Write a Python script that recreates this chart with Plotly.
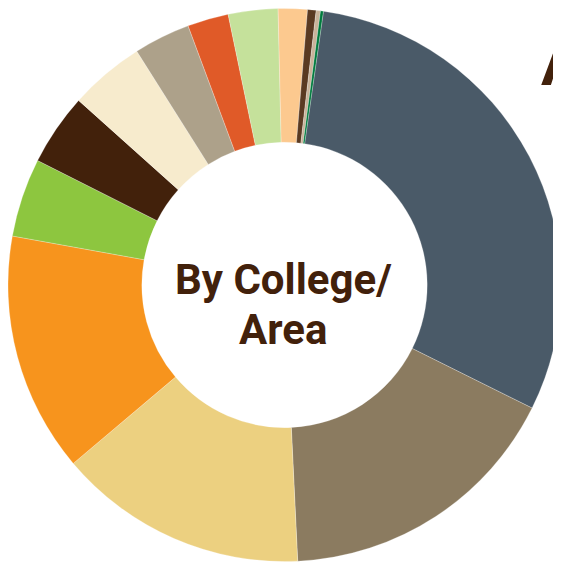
import plotly.graph_objects as go

categories = ["Area 1", "Area 2", "Area 3", "Area 4", "Area 5", "Area 6", "Area 7",
              "Area 8", "Area 9", "Area 10", "Area 11", "Area 12", "Area 13", "Area 14"]
values = [30.1, 16.9, 14.6, 14.0, 4.6, 4.2, 4.4, 3.3, 2.4, 2.9, 1.7, 0.5, 0.25, 0.17]
colors = ["#4a5a68", "#8b7b60", "#ecd080", "#f7941d", "#8dc63f", "#42210b", "#f7ebcd",
          "#ada18a", "#e05a28", "#c5e19b", "#fcc98f", "#5a3a22", "#c9b39a", "#007a3d"]
center_line1 = "By College/"
center_line2 = "Area"
title_text = "A"

# page body has an 8px margin; figure sized to fill the rest of the window
OFF = 8
W, H = 553, 554
FONT = "Roboto, Liberation Sans, Arial, sans-serif"

fig = go.Figure(go.Pie(
    labels=categories,
    values=values,
    sort=False,
    direction="clockwise",
    rotation=8.1,
    hole=0.516,
    marker=dict(colors=colors, line=dict(color="rgba(255,255,255,0.5)", width=0.5)),
    textinfo="none",
    showlegend=False,
    domain=dict(x=[0.0, 1.0], y=[0.0, 1.0]),
))

def ypap(y_window):
    return 1 - (y_window - OFF) / H

def xpap(x_window):
    return (x_window - OFF) / W

fig.add_annotation(
    text="<b>" + center_line1 + "</b>",
    x=xpap(283), y=ypap(279), xref="paper", yref="paper",
    showarrow=False, xanchor="center", yanchor="middle",
    font=dict(family=FONT, size=42, color="#42210b"),
)
fig.add_annotation(
    text="<b>" + center_line2 + "</b>",
    x=xpap(283), y=ypap(329), xref="paper", yref="paper",
    showarrow=False, xanchor="center", yanchor="middle",
    font=dict(family=FONT, size=42, color="#42210b"),
)
fig.add_annotation(
    text="<b>" + title_text + "</b>",
    x=xpap(539), y=ypap(64), xref="paper", yref="paper",
    showarrow=False, xanchor="left", yanchor="middle",
    font=dict(family=FONT, size=62, color="#42210b"),
)

fig.update_layout(
    width=W, height=H,
    margin=dict(l=0, r=0, t=0, b=0),
    paper_bgcolor="white", plot_bgcolor="white",
)
fig.write_html("out.html")
